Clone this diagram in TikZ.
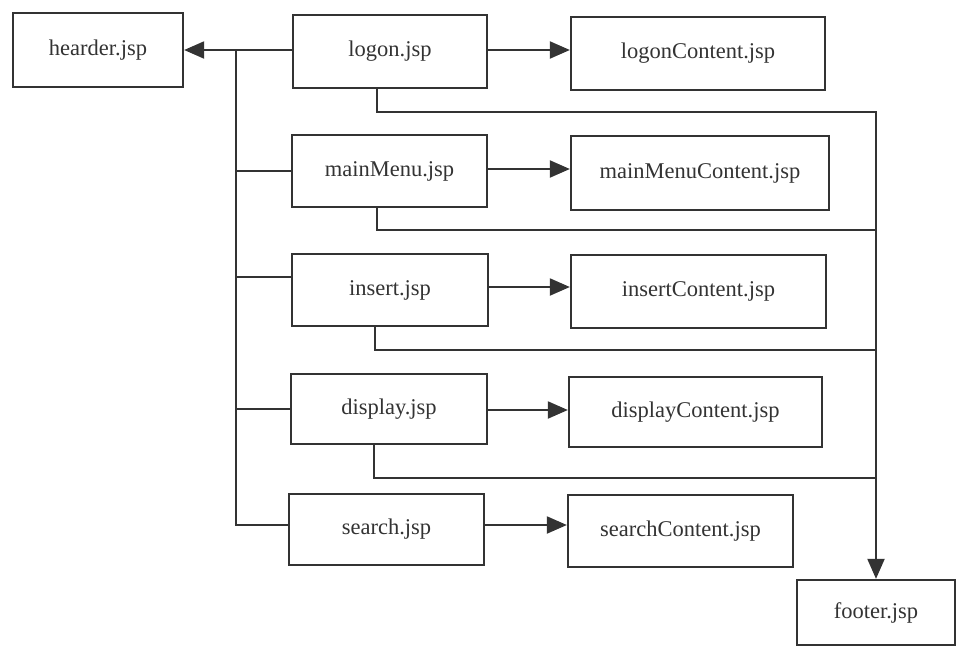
\documentclass[tikz,border=0pt]{standalone}
\usepackage{fontspec}
\setmainfont{Liberation Serif}
\usetikzlibrary{arrows.meta,calc}
\definecolor{ink}{HTML}{333333}
\tikzset{
  page/.style={x=1pt,y=-1pt},
  box/.style={draw=ink,line width=2.3pt,fill=white,text=ink,inner sep=0pt,
    font=\fontsize{22.5}{26}\selectfont},
  wire/.style={draw=ink,line width=2.1pt},
  arr/.style={wire,-{Triangle[length=20pt,width=17pt]}}
}
\begin{document}
\begin{tikzpicture}[page]
\useasboundingbox (0,0) rectangle (959,648);
% page boxes
\node[box,minimum width=170pt,minimum height=74pt] (header) at (98,50) {hearder.jsp};
\node[box,minimum width=194pt,minimum height=73pt] (logon) at (390,51.5) {logon.jsp};
\node[box,minimum width=254pt,minimum height=73pt] (logonC) at (698,53.5) {logonContent.jsp};
\node[box,minimum width=195pt,minimum height=72pt] (menu) at (389.5,171) {mainMenu.jsp};
\node[box,minimum width=258pt,minimum height=74pt] (menuC) at (700,173) {mainMenuContent.jsp};
\node[box,minimum width=196pt,minimum height=72pt] (insert) at (390,290) {insert.jsp};
\node[box,minimum width=255pt,minimum height=73pt] (insertC) at (698.5,291.5) {insertContent.jsp};
\node[box,minimum width=196pt,minimum height=70pt] (display) at (389,409) {display.jsp};
\node[box,minimum width=253pt,minimum height=70pt] (displayC) at (695.5,412) {displayContent.jsp};
\node[box,minimum width=195pt,minimum height=71pt] (search) at (386.5,529.5) {search.jsp};
\node[box,minimum width=225pt,minimum height=72pt] (searchC) at (680.5,531) {searchContent.jsp};
\node[box,minimum width=158pt,minimum height=65pt] (footer) at (876,612.5) {footer.jsp};

% header bus on the left
\coordinate (busTop) at (236,50);
\coordinate (busInsert) at (236,277);
\draw[arr] (logon.west |- busTop) -- (header.east |- busTop);
\draw[wire] (busTop) |- (search.west |- 0,525);
\draw[wire] (busTop |- menu.west) -- (menu.west);
\draw[wire] (busInsert) -- (insert.west |- busInsert);
\draw[wire] (busTop |- display.west) -- (display.west);

% content includes
\draw[arr] (logon.east |- 0,50) -- (logonC.west |- 0,50);
\draw[arr] (menu.east |- 0,169) -- (menuC.west |- 0,169);
\draw[arr] (insert.east |- 0,287) -- (insertC.west |- 0,287);
\draw[arr] (display.east |- 0,410) -- (displayC.west |- 0,410);
\draw[arr] (search.east |- 0,525) -- (searchC.west |- 0,525);

% footer collector on the right
\coordinate (fcol) at (footer.north |- 0,112);
\draw[arr] ($(logon.south)+(-13,0)$) |- (fcol) -- (footer.north);
\draw[wire] ($(menu.south)+(-12.5,0)$) |- (fcol |- 0,230);
\draw[wire] ($(insert.south)+(-15,0)$) |- (fcol |- 0,350);
\draw[wire] ($(display.south)+(-15,0)$) |- (fcol |- 0,478);
\end{tikzpicture}
\end{document}
